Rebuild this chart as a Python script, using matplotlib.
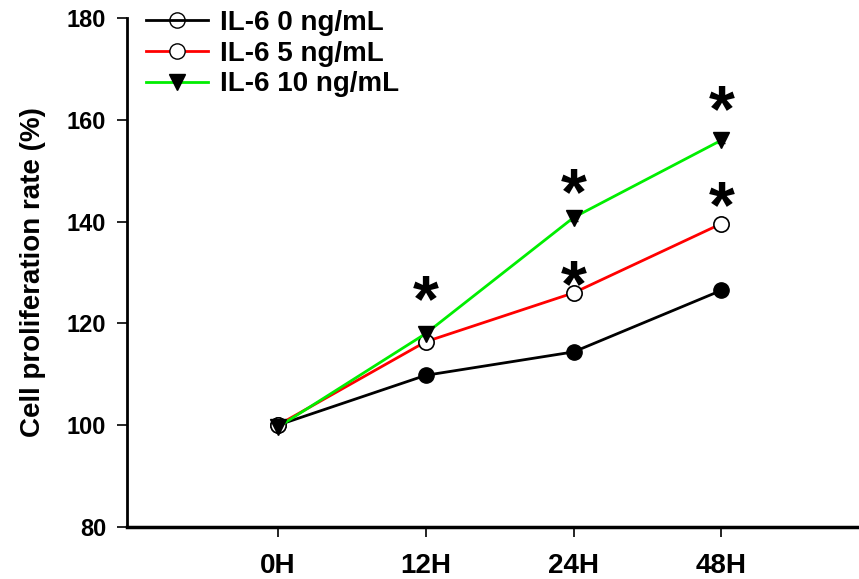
import numpy as np
import matplotlib.pyplot as plt
from matplotlib.lines import Line2D

plt.rcParams['font.family'] = ['Liberation Sans', 'DejaVu Sans']
plt.rcParams['font.weight'] = 'bold'

# data
time_labels = ['0H', '12H', '24H', '48H']
il6_0 = [100.0, 109.8, 114.4, 126.5]
il6_5 = [100.0, 116.4, 126.0, 139.6]
il6_10 = [99.6, 118.0, 140.8, 156.0]
err_0 = [0.5, 0.6, 0.6, 0.5]
err_5 = [0.5, 0.8, 0.6, 0.7]
err_10 = [0.5, 0.7, 0.6, 0.6]

# significance marks (x index, y value of the asterisk centre)
star_x = [1, 2, 2, 3, 3]
star_y = [126.5, 129.5, 147.5, 145.0, 163.9]

x = np.arange(len(time_labels))

fig = plt.figure(figsize=(8.59, 5.79), dpi=100)
ax = fig.add_axes([127/859, 1-527/579, (859-127)/859, (527-18)/579])

ax.errorbar(x, il6_0, yerr=err_0, color='black', lw=2, marker='o', ms=11,
            mfc='black', mec='black', capsize=3, elinewidth=1.2, zorder=3)
ax.errorbar(x, il6_5, yerr=err_5, color='#ff0000', lw=2, marker='o', ms=11,
            mfc='white', mec='black', mew=1.2, ecolor='black', capsize=3,
            elinewidth=1.2, zorder=3)
ax.errorbar(x, il6_10, yerr=err_10, color='#00ee00', lw=2, marker='v', ms=11,
            mfc='black', mec='black', ecolor='black', capsize=3,
            elinewidth=1.2, zorder=3)

# '*' glyph sits high in its box, shift the anchor down so the glyph is centred
for sx, sy in zip(star_x, star_y):
    ax.annotate('*', (sx, sy), xytext=(0, -10), textcoords='offset points',
                fontsize=48, fontweight='bold', ha='center', va='center')

ax.set_xlim(-1.02, 3.93)
ax.set_ylim(80, 180)
ax.set_xticks(x)
ax.set_xticklabels(time_labels, fontsize=20, fontweight='bold')
ax.set_yticks([80, 100, 120, 140, 160, 180])
ax.tick_params(axis='y', labelsize=17, length=7, width=1.2, direction='out', pad=8)
ax.tick_params(axis='x', length=7, width=1.2, direction='out', pad=12)
for lab in ax.get_yticklabels():
    lab.set_fontweight('bold')
ax.set_ylabel('Cell proliferation rate (%)', fontsize=20, fontweight='bold', labelpad=15)

ax.spines['top'].set_visible(False)
ax.spines['right'].set_visible(False)
ax.spines['left'].set_linewidth(2)
ax.spines['bottom'].set_linewidth(2.5)

handles = [
    Line2D([], [], color='black', lw=2, marker='o', ms=11, mfc='none', mec='black'),
    Line2D([], [], color='#ff0000', lw=2, marker='o', ms=11, mfc='white', mec='black'),
    Line2D([], [], color='#00ee00', lw=2, marker='v', ms=11, mfc='black', mec='black'),
]
labels = ['IL-6 0 ng/mL', 'IL-6 5 ng/mL', 'IL-6 10 ng/mL']
ax.legend(handles, labels, loc='upper left', bbox_to_anchor=(0.0, 1.054),
          frameon=False, prop={'size': 20, 'weight': 'bold'},
          handlelength=2.2, handletextpad=0.45, labelspacing=0.17, borderaxespad=0.3)

fig.savefig('out.png', dpi=100)
